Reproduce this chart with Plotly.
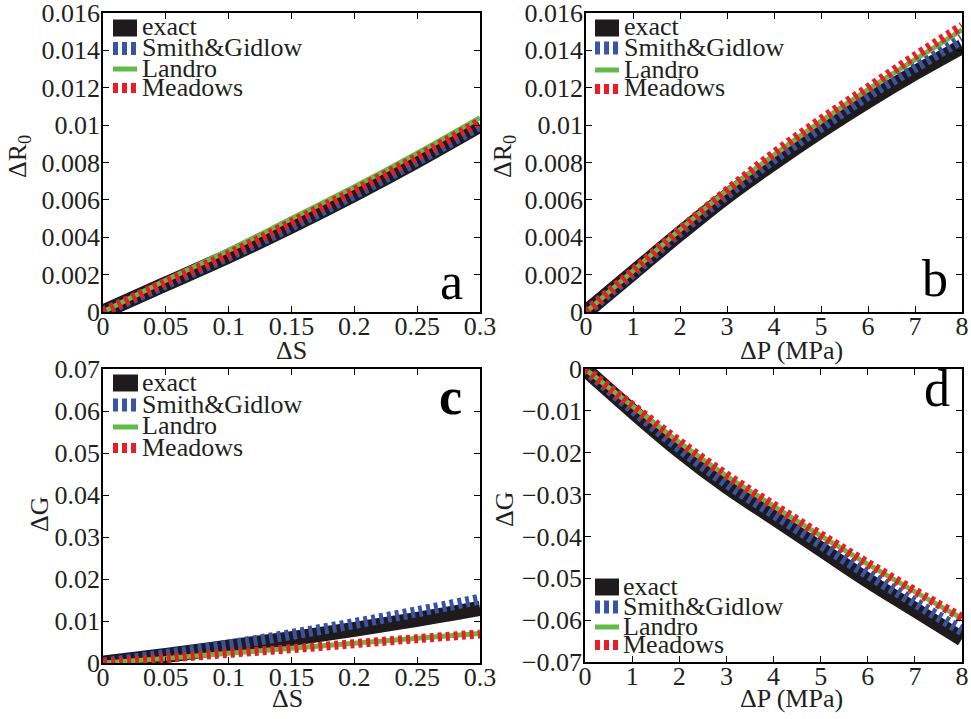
import plotly.graph_objects as go

# ---------------- data ----------------
series_names = ["exact", "Smith&Gidlow", "Landro", "Meadows"]

dS = [0, 0.05, 0.1, 0.15, 0.2, 0.25, 0.3]
dP = [0, 1, 2, 3, 4, 5, 6, 7, 8]

# panel a: dR0 vs dS
a_exact = [0, 0.0015, 0.0030, 0.0046, 0.0063, 0.0081, 0.0100]
a_smith = [0, 0.0015, 0.0030, 0.0046, 0.0063, 0.0081, 0.0100]
a_landro = [0, 0.0017, 0.0033, 0.0050, 0.0067, 0.0085, 0.0104]
a_meadows = [0, 0.0016, 0.0031, 0.0048, 0.0065, 0.0083, 0.0102]

# panel b: dR0 vs dP
b_exact = [0, 0.0021, 0.0042, 0.0062, 0.0080, 0.0097, 0.0113, 0.0128, 0.0142]
b_smith = [0, 0.0021, 0.0043, 0.0063, 0.0082, 0.0099, 0.0116, 0.0131, 0.0146]
b_landro = [0, 0.0022, 0.0044, 0.0065, 0.0084, 0.0102, 0.0119, 0.0135, 0.0151]
b_meadows = [0, 0.0022, 0.0044, 0.0065, 0.0085, 0.0103, 0.0120, 0.0137, 0.0153]

# panel c: dG vs dS
c_exact = [0, 0.0018, 0.0038, 0.0058, 0.0080, 0.0104, 0.0130]
c_smith = [0, 0.0020, 0.0043, 0.0068, 0.0094, 0.0122, 0.0152]
c_landro = [0, 0.0011, 0.0023, 0.0035, 0.0047, 0.0059, 0.0070]
c_meadows = [0, 0.0011, 0.0023, 0.0034, 0.0046, 0.0058, 0.0069]

# panel d: dG vs dP
d_exact = [0, -0.0100, -0.0195, -0.0280, -0.0355, -0.0430, -0.0505, -0.0575, -0.0645]
d_smith = [0, -0.0095, -0.0188, -0.0272, -0.0345, -0.0418, -0.0490, -0.0558, -0.0625]
d_landro = [0, -0.0088, -0.0175, -0.0255, -0.0327, -0.0398, -0.0466, -0.0532, -0.0596]
d_meadows = [0, -0.0087, -0.0173, -0.0253, -0.0325, -0.0396, -0.0464, -0.0530, -0.0594]

# ticks
dS_ticks = [0, 0.05, 0.1, 0.15, 0.2, 0.25, 0.3]
dS_ticktext = ["0", "0.05", "0.1", "0.15", "0.2", "0.25", "0.3"]
dP_ticks = [0, 1, 2, 3, 4, 5, 6, 7, 8]
dP_ticktext = ["0", "1", "2", "3", "4", "5", "6", "7", "8"]
r0_ticks = [0, 0.002, 0.004, 0.006, 0.008, 0.01, 0.012, 0.014, 0.016]
r0_ticktext = ["0", "0.002", "0.004", "0.006", "0.008", "0.01", "0.012", "0.014", "0.016"]
gc_ticks = [0, 0.01, 0.02, 0.03, 0.04, 0.05, 0.06, 0.07]
gc_ticktext = ["0", "0.01", "0.02", "0.03", "0.04", "0.05", "0.06", "0.07"]
gd_ticks = [0, -0.01, -0.02, -0.03, -0.04, -0.05, -0.06, -0.07]
gd_ticktext = ["0", "\u22120.01", "\u22120.02", "\u22120.03", "\u22120.04", "\u22120.05", "\u22120.06", "\u22120.07"]

# ---------------- styles ----------------
W, H = 971, 719
FONT = "Liberation Serif, Times New Roman, serif"
colors = ["#1f1a1c", "#3954a4", "#62bb47", "#ed1c24"]
widths = [15, 11, 5, 9]
dashes = ["solid", "4px,4px", "solid", "4px,4px"]


def px(x):
    return x / W


def py(y):
    return 1 - y / H


fig = go.Figure()

panels = [
    ("x", "y", dS, [a_exact, a_smith, a_landro, a_meadows]),
    ("x2", "y2", dP, [b_exact, b_smith, b_landro, b_meadows]),
    ("x3", "y3", dS, [c_exact, c_smith, c_landro, c_meadows]),
    ("x4", "y4", dP, [d_exact, d_smith, d_landro, d_meadows]),
]

for xa, ya, xs, ys_list in panels:
    for i, ys in enumerate(ys_list):
        fig.add_trace(go.Scatter(
            x=xs, y=ys, mode="lines", name=series_names[i],
            xaxis=xa, yaxis=ya, showlegend=False,
            line=dict(color=colors[i], width=widths[i], dash=dashes[i],
                      shape="spline", smoothing=1.0),
            hoverinfo="skip",
        ))

axis_common = dict(
    showline=True, linecolor="black", linewidth=1.5, mirror="ticks",
    ticks="inside", ticklen=6, tickcolor="black", tickwidth=1,
    showgrid=False, zeroline=False, automargin=False,
    ticklabeloverflow="allow",
    tickfont=dict(family=FONT, size=26, color="#231f20"),
)

domains = {
    "a": ([103, 480], [13, 312]),
    "b": ([586, 962], [13, 312]),
    "c": ([103, 480], [369, 663]),
    "d": ([585, 962], [369, 662]),
}


def xdom(k):
    return [px(domains[k][0][0]), px(domains[k][0][1])]


def ydom(k):
    return [py(domains[k][1][1]), py(domains[k][1][0])]


xstand = dict(ticklabelstandoff=-10)
ystand = dict(ticklabelstandoff=-4)

fig.update_layout(
    width=W, height=H,
    margin=dict(l=0, r=0, t=0, b=0),
    paper_bgcolor="white", plot_bgcolor="white",
    showlegend=False,
    xaxis=dict(domain=xdom("a"), anchor="y", range=[0, 0.3],
               tickvals=dS_ticks, ticktext=dS_ticktext, **xstand, **axis_common),
    yaxis=dict(domain=ydom("a"), anchor="x", range=[0, 0.016],
               tickvals=r0_ticks, ticktext=r0_ticktext, **ystand, **axis_common),
    xaxis2=dict(domain=xdom("b"), anchor="y2", range=[0, 8],
                tickvals=dP_ticks, ticktext=dP_ticktext, **xstand, **axis_common),
    yaxis2=dict(domain=ydom("b"), anchor="x2", range=[0, 0.016],
                tickvals=r0_ticks, ticktext=r0_ticktext, **ystand, **axis_common),
    xaxis3=dict(domain=xdom("c"), anchor="y3", range=[0, 0.3],
                tickvals=dS_ticks, ticktext=dS_ticktext, **xstand, **axis_common),
    yaxis3=dict(domain=ydom("c"), anchor="x3", range=[0, 0.07],
                tickvals=gc_ticks, ticktext=gc_ticktext, **ystand, **axis_common),
    xaxis4=dict(domain=xdom("d"), anchor="y4", range=[0, 8],
                tickvals=dP_ticks, ticktext=dP_ticktext, **xstand, **axis_common),
    yaxis4=dict(domain=ydom("d"), anchor="x4", range=[-0.07, 0],
                tickvals=gd_ticks, ticktext=gd_ticktext, **ystand, **axis_common),
)

annotations = []
title_font = dict(family=FONT, size=26, color="#231f20")

# axis titles
for (x, y, t, ang) in [
    (19, 157, "\u0394R<sub>0</sub>", -90),
    (504, 157, "\u0394R<sub>0</sub>", -90),
    (39, 514, "\u0394G", -90),
    (504, 509, "\u0394G", -90),
    (291, 350, "\u0394S", 0),
    (791, 350, "\u0394P (MPa)", 0),
    (287, 698, "\u0394S", 0),
    (791, 698, "\u0394P (MPa)", 0),
]:
    annotations.append(dict(x=px(x), y=py(y), xref="paper", yref="paper",
                            text=t, showarrow=False, textangle=ang,
                            xanchor="center", yanchor="middle", font=title_font))

# panel letters
for (x, y, t) in [(451, 282, "a"), (935, 279, "b"), (450, 396, "<b>c</b>"), (937, 389, "d")]:
    annotations.append(dict(x=px(x), y=py(y), xref="paper", yref="paper",
                            text=t, showarrow=False, xanchor="center", yanchor="middle",
                            font=dict(family=FONT, size=52, color="black")))

# hand-placed legends (one per panel)
legend_specs = [
    (113, 137, 140, [28, 48.5, 69, 88]),
    (595, 619, 622, [28, 48, 70, 89]),
    (113, 138, 140, [383, 405, 427, 448]),
    (595, 619, 621, [587, 607, 627, 645]),
]
shapes = []
for x0, x1, xt, rows in legend_specs:
    for i, ry in enumerate(rows):
        lw = [17, 13, 5, 10][i]
        shapes.append(dict(type="line", xref="paper", yref="paper",
                           x0=px(x0), x1=px(x1), y0=py(ry), y1=py(ry),
                           line=dict(color=colors[i], width=lw,
                                     dash="5px,4px" if dashes[i] != "solid" else "solid")))
        annotations.append(dict(x=px(xt), y=py(ry - 1), xref="paper", yref="paper",
                                text=series_names[i], showarrow=False,
                                xanchor="left", yanchor="middle", font=title_font))

fig.update_layout(annotations=annotations, shapes=shapes)

fig.write_html("out.html")
